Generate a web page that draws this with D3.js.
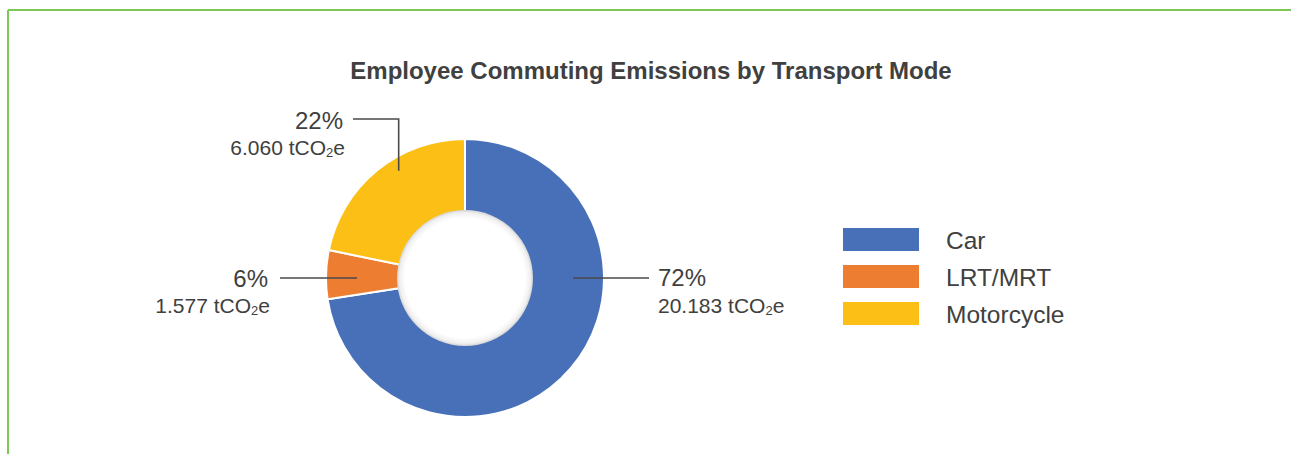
<!DOCTYPE html>
<html>
<head>
<meta charset="utf-8">
<script src="https://cdn.jsdelivr.net/npm/d3@7"></script>
<style>
  html, body { margin: 0; padding: 0; background: #fff; }
  svg { display: block; font-family: "Liberation Sans", Arial, Helvetica, sans-serif; }
</style>
</head>
<body>
<svg id="chart" width="1291" height="454"></svg>
<script>
const title = "Employee Commuting Emissions by Transport Mode";
const categories = ["Car", "LRT/MRT", "Motorcycle"];
const values = [20.183, 1.577, 6.060];
const percentLabels = ["72%", "6%", "22%"];
const valueLabels = ["20.183", "1.577", "6.060"];
const unitLabel = ["tCO", "2", "e"];
const colors = ["#4870B8", "#ED7D31", "#FBBF16"];

const svg = d3.select("#chart");
const W = 1291, H = 454;
const textColor = "#404040";

// frame (top + left border)
svg.append("line").attr("x1", 8).attr("y1", 10).attr("x2", W).attr("y2", 10)
  .attr("stroke", "#7DC855").attr("stroke-width", 2);
svg.append("line").attr("x1", 8).attr("y1", 10).attr("x2", 8).attr("y2", H)
  .attr("stroke", "#7DC855").attr("stroke-width", 2);

// title
svg.append("text").attr("x", 651).attr("y", 79).attr("text-anchor", "middle")
  .attr("font-size", 24).attr("font-weight", "bold").attr("fill", textColor)
  .text(title);

const cx = 465, cy = 278, outerR = 139, innerR = 68;
const data = categories.map((c, i) => ({ cat: c, value: values[i], pct: percentLabels[i], val: valueLabels[i], color: colors[i] }));

const pie = d3.pie().value(d => d.value).sort(null);
const arcs = pie(data);
const arc = d3.arc().innerRadius(0).outerRadius(outerR);

const g = svg.append("g").attr("transform", `translate(${cx},${cy})`);
g.selectAll("path.slice").data(arcs).join("path")
  .attr("class", "slice")
  .attr("d", arc)
  .attr("fill", d => d.data.color)
  .attr("stroke", "#fff").attr("stroke-width", 2).attr("stroke-linejoin", "round");

// inner hole with soft edge shadow
const defs = svg.append("defs");
const rg = defs.append("radialGradient").attr("id", "hole");
rg.append("stop").attr("offset", "88%").attr("stop-color", "#ffffff");
rg.append("stop").attr("offset", "96%").attr("stop-color", "#f0f0f0");
rg.append("stop").attr("offset", "100%").attr("stop-color", "#d4d4d4");
g.append("circle").attr("r", innerR).attr("fill", "url(#hole)");

// label layout (leader anchor angle/radius, elbow/ends, text positions)
const layout = [
  { angle: Math.PI / 2, r: 108, pts: a => [a, [649, a[1]]], tx: 658, anchor: "start", y1: 286, y2: 313 },
  { angle: 3 * Math.PI / 2, r: 108, pts: a => [a, [280, a[1]]], tx: 268, anchor: "end", y1: 287, y2: 313 },
  { angle: null, r: 126, pts: a => [a, [a[0], 119], [353, 119]], tx: 343, anchor: "end", y1: 129, y2: 155 }
];

arcs.forEach((d, i) => {
  const L = layout[i];
  const ang = L.angle !== null ? L.angle : (d.startAngle + d.endAngle) / 2 + 0.13;
  const a = [cx + L.r * Math.sin(ang), cy - L.r * Math.cos(ang)];
  const pts = L.pts(a);
  svg.append("path").attr("d", d3.line()(pts)).attr("fill", "none")
    .attr("stroke", "#4a4a4a").attr("stroke-width", 1.6);
  svg.append("text").attr("x", L.tx).attr("y", L.y1)
    .attr("text-anchor", L.anchor).attr("font-size", 24).attr("fill", textColor)
    .text(d.data.pct);
  const t = svg.append("text").attr("x", L.tx + (L.anchor === "end" ? 2 : 0)).attr("y", L.y2)
    .attr("text-anchor", L.anchor).attr("font-size", 21).attr("fill", textColor);
  t.append("tspan").text(d.data.val + " " + unitLabel[0]);
  t.append("tspan").attr("font-size", 13).attr("dy", 2).text(unitLabel[1]);
  t.append("tspan").attr("dy", -2).text(unitLabel[2]);
});

// legend
const lg = svg.append("g");
data.forEach((d, i) => {
  const y = 228 + i * 37;
  lg.append("rect").attr("x", 843).attr("y", y).attr("width", 76).attr("height", 23).attr("fill", d.color);
  lg.append("text").attr("x", 946).attr("y", y + 21).attr("font-size", 24.5).attr("fill", textColor).text(d.cat);
});
</script>
</body>
</html>
